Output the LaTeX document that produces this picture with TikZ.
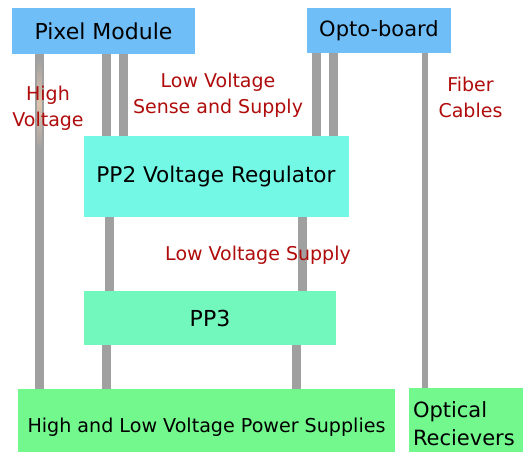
\documentclass[tikz,border=0pt]{standalone}
\usepackage{fontspec}
\setmainfont{DejaVu Sans}
\usetikzlibrary{backgrounds}
\definecolor{pmblue}{HTML}{70BEF8}
\definecolor{pptwo}{HTML}{72F8E4}
\definecolor{ppthree}{HTML}{72F8BC}
\definecolor{psgreen}{HTML}{72F88C}
\definecolor{lblred}{HTML}{B00C0C}
\definecolor{cablegray}{HTML}{A0A0A0}
\definecolor{tan}{HTML}{DCC4AC}
\tikzset{
  box/.style={fill=#1, draw=none, inner sep=0pt, font=\fontsize{22bp}{28bp}\selectfont},
  cable/.style={draw=cablegray, line width=9bp},
  fiber/.style={draw=cablegray, line width=6bp},
  lbl/.style={text=lblred, align=center, inner sep=0pt, font=\fontsize{19bp}{26bp}\selectfont}
}
\begin{document}
\begin{tikzpicture}[x=1bp, y=-1bp]
\clip (0,0) rectangle (530,452);
% boxes
\node[box=pmblue, minimum width=183bp, minimum height=46bp] (pm) at (103.5,31) {Pixel Module};
\node[box=pmblue, minimum width=144bp, minimum height=45bp, font=\fontsize{21bp}{28bp}\selectfont] (ob) at (379,30.5) {Opto-board};
\node[box=pptwo, minimum width=265bp, minimum height=81bp, font=\fontsize{21.6bp}{28bp}\selectfont] (pp2) at (216,176.5) {PP2 Voltage Regulator};
\node[box=ppthree, minimum width=252bp, minimum height=54bp] (pp3) at (210,318) {PP3};
\node[box=psgreen, minimum width=377bp, minimum height=76bp, font=\fontsize{19.1bp}{26bp}\selectfont] (ps) at (206.5,427) {High and Low Voltage Power Supplies};
\node[box=psgreen, minimum width=114bp, minimum height=72bp, text width=106bp, align=left, font=\fontsize{21bp}{28bp}\selectfont] (or) at (466,424) {Optical\\Recievers};
% labels
\node[lbl] (hv) at (48,108.5) {High\\Voltage};
\node[lbl] (lvss) at (218,95) {Low Voltage\\Sense and Supply};
\node[lbl] (fc) at (470.5,97.5) {Fiber\\Cables};
\node[lbl] (lvs) at (258,255) {Low Voltage Supply};
% cables behind
\begin{scope}[on background layer]
\fill[white] (0,0) rectangle (530,452);
\draw[cable] (39.5,0 |- pm.south) -- (39.5,0 |- ps.north);
\shade[top color=cablegray, bottom color=cablegray, middle color=tan] (37.5,58) rectangle (41.5,150);
\draw[cable] (106.5,0 |- pm.south) -- (106.5,0 |- pp2.north);
\draw[cable] (123,0 |- pm.south) -- (123,0 |- pp2.north);
\draw[cable] (316,0 |- ob.south) -- (316,0 |- pp2.north);
\draw[cable] (333,0 |- ob.south) -- (333,0 |- pp2.north);
\draw[cable] (109.5,0 |- pp2.south) -- (109.5,0 |- pp3.north);
\draw[cable] (302.5,0 |- pp2.south) -- (302.5,0 |- pp3.north);
\draw[cable] (106.5,0 |- pp3.south) -- (106.5,0 |- ps.north);
\draw[cable] (296,0 |- pp3.south) -- (296,0 |- ps.north);
\draw[fiber] (425,0 |- ob.south) -- (425,0 |- or.north);
\end{scope}
\end{tikzpicture}
\end{document}
